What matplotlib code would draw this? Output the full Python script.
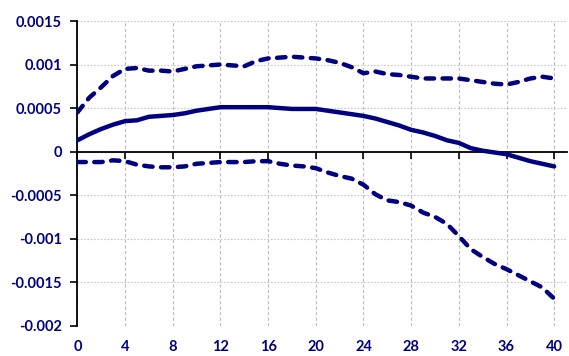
import matplotlib
matplotlib.use("Agg")
import matplotlib.pyplot as plt
from matplotlib.ticker import FixedLocator, FuncFormatter

# horizon (quarters)
horizon = list(range(0, 41))

response = [
    0.00013, 0.00020, 0.00026, 0.00031, 0.00035, 0.00036, 0.00040, 0.00041,
    0.00042, 0.00044, 0.00047, 0.00049, 0.00051, 0.00051, 0.00051, 0.00051,
    0.00051, 0.00050, 0.00049, 0.00049, 0.00049, 0.00047, 0.00045, 0.00043,
    0.00041, 0.00038, 0.00034, 0.00030, 0.00025, 0.00022, 0.00018, 0.00013,
    0.00010, 0.00004, 0.00001, -0.00001, -0.00003, -0.00007, -0.00011,
    -0.00014, -0.00017,
]

upper_band = [
    0.00045, 0.00062, 0.00074, 0.00087, 0.00095, 0.00096, 0.00093, 0.00093,
    0.00092, 0.00095, 0.00098, 0.00099, 0.00100, 0.00099, 0.00098, 0.00104,
    0.00107, 0.00108, 0.00109, 0.00108, 0.00107, 0.00105, 0.00102, 0.00097,
    0.00090, 0.00092, 0.00089, 0.00088, 0.00086, 0.00084, 0.00084, 0.00084,
    0.00084, 0.00082, 0.00080, 0.00078, 0.00077, 0.00080, 0.00084, 0.00086,
    0.00084,
]

lower_band = [
    -0.00012, -0.00012, -0.00012, -0.00010, -0.00011, -0.00015, -0.00017,
    -0.00018, -0.00018, -0.00017, -0.00014, -0.00013, -0.00012, -0.00012,
    -0.00012, -0.00011, -0.00011, -0.00014, -0.00016, -0.00017, -0.00019,
    -0.00024, -0.00028, -0.00031, -0.00038, -0.00049, -0.00056, -0.00058,
    -0.00062, -0.00070, -0.00075, -0.00083, -0.00097, -0.00112, -0.00121,
    -0.00129, -0.00135, -0.00142, -0.00149, -0.00156, -0.00169,
]

x_ticks = list(range(0, 41, 4))
y_ticks = [-0.002, -0.0015, -0.001, -0.0005, 0, 0.0005, 0.001, 0.0015]

navy = "#000080"
plt.rcParams["font.family"] = ["Lato", "DejaVu Sans"]
plt.rcParams["font.weight"] = "bold"

fig = plt.figure(figsize=(5.69, 3.56), dpi=100)
ax = fig.add_axes([0.136, 0.085, 0.861, 0.856])

ax.plot(horizon, response, color=navy, linewidth=3.2, solid_capstyle="round",
        zorder=3)
for band in (upper_band, lower_band):
    ax.plot(horizon, band, color=navy, linewidth=3.2, dashes=(1.9, 1.9),
            dash_capstyle="round", zorder=3)

ax.set_xlim(0, 41.1)
ax.set_ylim(-0.002, 0.0015)

ax.yaxis.set_major_locator(FixedLocator(y_ticks))
ax.yaxis.set_major_formatter(FuncFormatter(lambda v, p: f"{v:g}"))
ax.xaxis.set_major_locator(FixedLocator(x_ticks))

# zero line carries the x ticks, labels go at the bottom
ax.spines["bottom"].set_position(("data", 0))
ax.spines["bottom"].set_linewidth(1.3)
ax.spines["left"].set_linewidth(1.3)
ax.spines["top"].set_visible(False)
ax.spines["right"].set_visible(False)
ax.tick_params(axis="x", direction="out", length=5, width=1.2,
               labelbottom=False)
ax.tick_params(axis="y", direction="out", length=5, width=1.2, pad=6,
               labelsize=10.5, labelcolor=navy)

sec = ax.secondary_xaxis("bottom")
sec.xaxis.set_major_locator(FixedLocator(x_ticks))
sec.spines["bottom"].set_visible(False)
sec.tick_params(axis="x", length=0, pad=10, labelsize=10.5, labelcolor=navy)

ax.grid(True, axis="x", color="#bdbdbd", linestyle=(0, (3, 2)), linewidth=0.8)
ax.grid(True, axis="y", color="#c8c8c8", linestyle=(0, (1.5, 1.5)),
        linewidth=0.8)
ax.set_axisbelow(True)

fig.savefig("out.png", dpi=100)
